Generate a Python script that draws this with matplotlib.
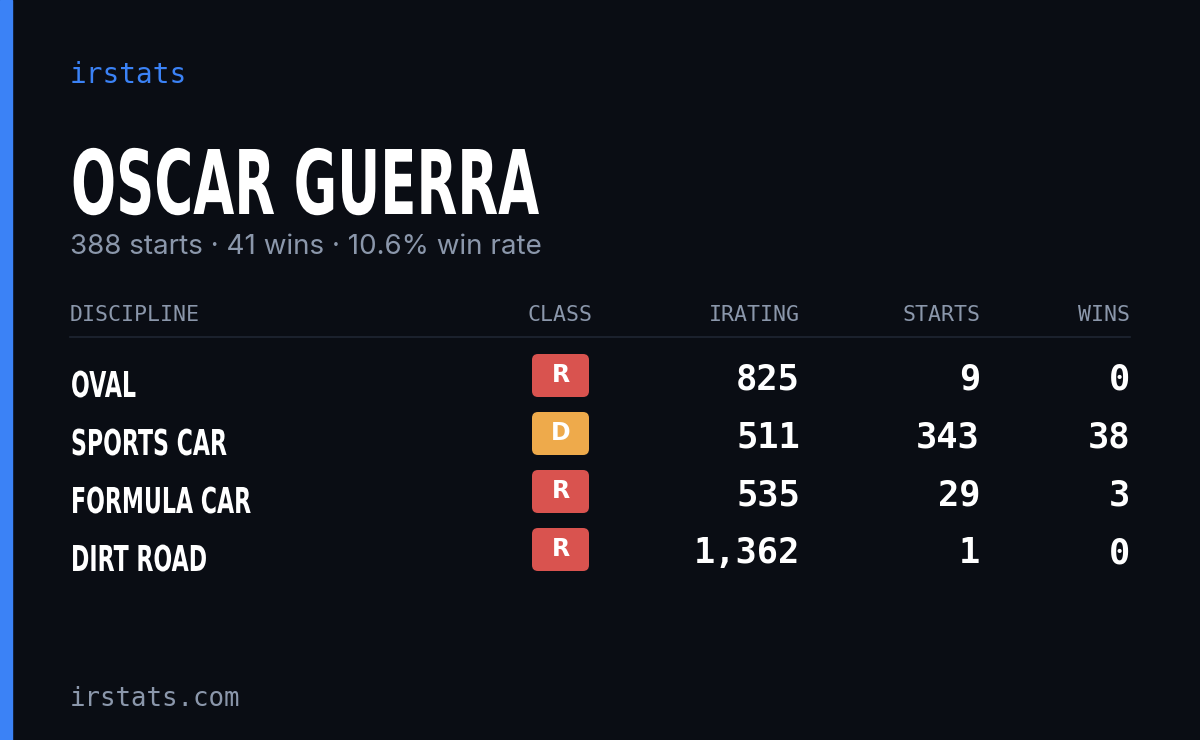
import matplotlib
matplotlib.use("Agg")
import matplotlib.pyplot as plt
from matplotlib.patches import FancyBboxPatch, Rectangle, PathPatch
from matplotlib.textpath import TextPath
from matplotlib.font_manager import FontProperties
from matplotlib.transforms import Affine2D

BG = "#0a0d14"
MUTED = "#8b97ab"
BLUE = "#3b82f6"

name = "OSCAR GUERRA"
summary = "388 starts · 41 wins · 10.6% win rate"
headers = ["DISCIPLINE", "CLASS", "IRATING", "STARTS", "WINS"]
disciplines = ["OVAL", "SPORTS CAR", "FORMULA CAR", "DIRT ROAD"]
classes = ["R", "D", "R", "R"]
iratings = [825, 511, 535, 1362]
starts = [9, 343, 29, 1]
wins = [0, 38, 3, 0]
class_colors = {"R": "#d9534f", "D": "#eeaa4b"}

MONO = ["DejaVu Sans Mono"]
SANS = ["Inter", "DejaVu Sans"]
BOLD = FontProperties(family="DejaVu Sans", weight="bold")


def condensed(ax, x, baseline, s, cap_h, squeeze):
    # fake a condensed face: draw the bold outline and squeeze it sideways
    tp = TextPath((0, 0), s, size=100, prop=BOLD)
    cap = TextPath((0, 0), "H", size=100, prop=BOLD).get_extents().height
    sy = cap_h / cap
    tr = Affine2D().scale(sy * squeeze, -sy).translate(x, baseline)
    ax.add_patch(PathPatch(tr.transform_path(tp), color="white", lw=0))


fig = plt.figure(figsize=(12, 7.4), dpi=100, facecolor=BG)
ax = fig.add_axes([0, 0, 1, 1])
ax.set_xlim(0, 1200)
ax.set_ylim(740, 0)
ax.axis("off")

ax.add_patch(Rectangle((0, 0), 12, 740, color=BLUE))

ax.text(70, 75, "irstats", color=BLUE, family=MONO, fontsize=20,
        fontweight="medium", va="center")
condensed(ax, 71, 214, name, 65, 0.595)
ax.text(70, 247, summary, color=MUTED, family=SANS, fontsize=20, va="center")

hx = [70, 560, 800, 980, 1130]
ha = ["left", "center", "right", "right", "right"]
for x, h, a in zip(hx, headers, ha):
    ax.text(x, 315, h, color=MUTED, family=MONO, fontsize=15.5, ha=a, va="center")
ax.plot([70, 1130], [337, 337], color="#1f2633", lw=1.2)

row_y = [378, 436, 494, 552]
for y, d, c, ir, s, w in zip(row_y, disciplines, classes, iratings, starts, wins):
    condensed(ax, 71, y + 19, d, 26, 0.62)
    ax.add_patch(FancyBboxPatch((532, y - 24), 57, 43,
                                boxstyle="round,pad=0,rounding_size=6",
                                color=class_colors[c], lw=0))
    ax.text(560.5, y - 2.5, c, color="white", family=["DejaVu Sans"],
            fontweight="bold", fontsize=17, ha="center", va="center")
    for x, v in zip([800, 980, 1130], [ir, s, w]):
        ax.text(x, y + 1, f"{v:,}", color="white", family=MONO, fontsize=25.5,
                fontweight="bold", ha="right", va="center")

ax.text(70, 699, "irstats.com", color=MUTED, family=MONO, fontsize=18.5,
        fontweight="medium", va="center")

fig.savefig("out.png", dpi=100, facecolor=BG)
